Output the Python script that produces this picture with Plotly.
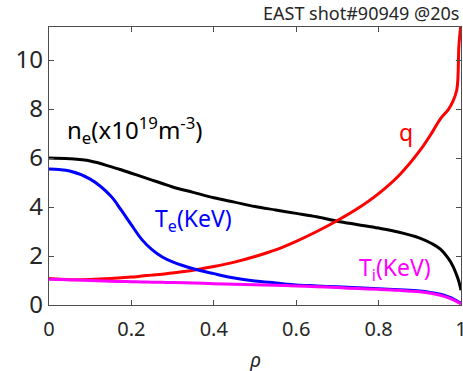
import plotly.graph_objects as go

rho = [0, 0.05, 0.1, 0.15, 0.175, 0.2, 0.225, 0.25, 0.275, 0.3, 0.35, 0.4, 0.45, 0.5, 0.55,
       0.6, 0.65, 0.7, 0.75, 0.8, 0.85, 0.9, 0.93, 0.95, 0.97, 0.98, 0.99, 0.995, 1.0]
ne = [6.0, 5.97, 5.88, 5.65, 5.52, 5.38, 5.24, 5.1, 4.96, 4.82, 4.6, 4.38, 4.2, 4.02, 3.88,
      3.74, 3.6, 3.42, 3.28, 3.14, 2.97, 2.73, 2.5, 2.28, 1.88, 1.6, 1.2, 0.95, 0.6]
Te = [5.55, 5.47, 5.14, 4.45, 3.88, 3.27, 2.68, 2.26, 1.96, 1.76, 1.48, 1.28, 1.1, 0.98, 0.9,
      0.82, 0.78, 0.74, 0.7, 0.66, 0.62, 0.57, 0.5, 0.44, 0.33, 0.26, 0.17, 0.12, 0.07]
Ti = [1.05, 1.03, 1.0, 0.97, 0.96, 0.95, 0.94, 0.93, 0.925, 0.92, 0.9, 0.87, 0.85, 0.83, 0.81,
      0.78, 0.75, 0.71, 0.67, 0.64, 0.6, 0.54, 0.47, 0.4, 0.29, 0.22, 0.14, 0.09, 0.04]
q = [1.08, 1.03, 1.04, 1.08, 1.11, 1.14, 1.18, 1.22, 1.26, 1.31, 1.42, 1.57, 1.75, 1.98, 2.25,
     2.6, 3.0, 3.45, 3.95, 4.55, 5.3, 6.3, 7.05, 7.6, 8.0, 8.3, 8.8, 10.6, 11.5]

x_ticks = [0, 0.2, 0.4, 0.6, 0.8, 1.0]
x_tick_labels = ["0", "0.2", "0.4", "0.6", "0.8", "1"]
y_ticks = [0, 2, 4, 6, 8, 10]

FONT = "Noto Sans"
TXT = "#262626"

fig = go.Figure()
series = [(ne, "black"), (q, "#ff0000"), (Te, "#0000ff"), (Ti, "#ff00ff")]
for ys, col in series:
    fig.add_trace(go.Scatter(x=rho, y=ys, mode="lines",
                             line=dict(color=col, width=3, shape="spline", smoothing=1.0),
                             showlegend=False, hoverinfo="skip"))

axis_common = dict(showline=True, linecolor="#4d4d4d", linewidth=1.3, mirror="ticks",
                   ticks="inside", ticklen=5, tickcolor="#4d4d4d", showgrid=False,
                   zeroline=False, automargin=False)

fig.update_layout(
    width=463, height=371,
    margin=dict(l=49, r=2, t=27, b=66),
    paper_bgcolor="white", plot_bgcolor="white",
    xaxis=dict(range=[0, 1], tickvals=x_ticks, ticktext=x_tick_labels,
               ticklabeloverflow="allow", ticklabelstandoff=6,
               tickfont=dict(family=FONT, size=20, color=TXT), **axis_common),
    yaxis=dict(range=[0, 11.35], tickvals=y_ticks,
               tickfont=dict(family=FONT, size=24, color=TXT), **axis_common),
    annotations=[
        dict(text="EAST shot#90949 @20s", xref="paper", yref="paper", x=1.0, y=1.0,
             xanchor="right", yanchor="bottom", showarrow=False,
             font=dict(family=FONT, size=18, color=TXT)),
        dict(text="<i>ρ</i>", xref="paper", yref="paper", x=0.5, y=-0.195,
             xanchor="center", yanchor="middle", showarrow=False,
             font=dict(family=FONT, size=20, color=TXT)),
        dict(text="n<sub>e</sub>(x10<sup>19</sup>m<sup>-3</sup>)", x=0.039, y=7.15,
             xanchor="left", yanchor="middle", showarrow=False,
             font=dict(family=FONT, size=24, color="black")),
        dict(text="q", x=0.867, y=7.05, xanchor="center", yanchor="middle",
             showarrow=False, font=dict(family=FONT, size=23, color="#ff0000")),
        dict(text="T<sub>e</sub>(KeV)", x=0.252, y=3.5, xanchor="left", yanchor="middle",
             showarrow=False, font=dict(family=FONT, size=23, color="#0000ff")),
        dict(text="T<sub>i</sub>(KeV)", x=0.747, y=1.47, xanchor="left", yanchor="middle",
             showarrow=False, font=dict(family=FONT, size=23, color="#ff00ff")),
    ],
)

fig.write_html("out.html")
